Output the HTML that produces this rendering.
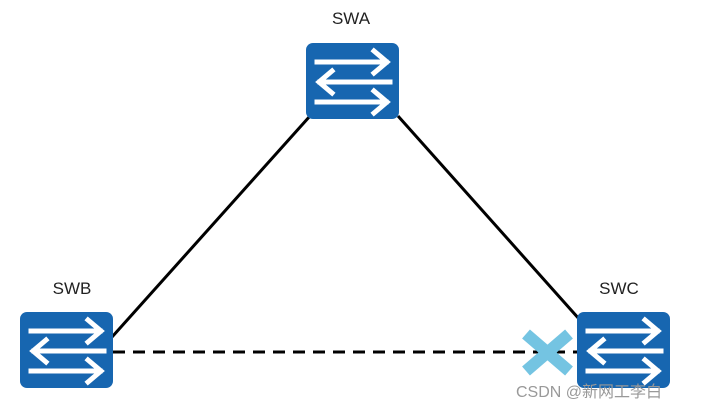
<!DOCTYPE html>
<html><head><meta charset="utf-8"><style>
html,body{margin:0;padding:0;background:#fff;}
svg{display:block}
text{font-family:"Liberation Sans","Noto Sans CJK SC",sans-serif;}
</style></head><body>
<svg width="701" height="410" viewBox="0 0 701 410" xmlns="http://www.w3.org/2000/svg">
<defs>
<g id="sw">
<rect x="0" y="0" width="93" height="76" rx="7" fill="#1766b0"/>
<g stroke="#fff" stroke-width="5" fill="none" stroke-linecap="square">
<line x1="11" y1="19" x2="80" y2="19"/>
<polyline points="68,8 81,19 68,30"/>
<line x1="14" y1="39" x2="84" y2="39"/>
<polyline points="26,28 13,39 26,50"/>
<line x1="11" y1="59" x2="80" y2="59"/>
<polyline points="68,48 81,59 68,70"/>
</g>
</g>
</defs>
<line x1="310" y1="116" x2="112" y2="337" stroke="#000" stroke-width="3"/>
<line x1="398" y1="116" x2="580" y2="320" stroke="#000" stroke-width="3"/>
<line x1="113" y1="352" x2="577" y2="352" stroke="#000" stroke-width="3" stroke-dasharray="12,8"/>
<use href="#sw" x="306" y="43"/>
<use href="#sw" x="20" y="312"/>
<use href="#sw" x="577" y="312"/>
<g stroke="#74c4e2" stroke-width="12" stroke-linecap="butt">
<line x1="526" y1="334" x2="569" y2="371"/>
<line x1="569" y1="334" x2="526" y2="371"/>
</g>
<text x="351" y="24" font-size="17" text-anchor="middle" fill="#222">SWA</text>
<text x="72" y="294" font-size="17" text-anchor="middle" fill="#222">SWB</text>
<text x="619" y="294" font-size="17" text-anchor="middle" fill="#222">SWC</text>
<text x="516" y="397" font-size="16" fill="#999">CSDN @新网工李白</text>
</svg>
</body></html>
